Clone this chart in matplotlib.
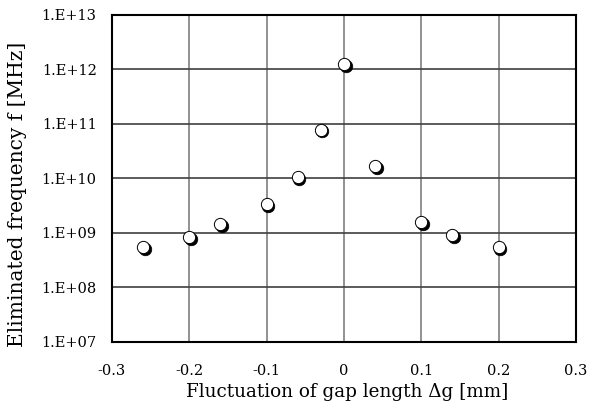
import matplotlib
matplotlib.use("Agg")
import matplotlib.pyplot as plt
import matplotlib.transforms as mtransforms
from matplotlib.ticker import FixedLocator, FixedFormatter

gap = [-0.26, -0.20, -0.16, -0.10, -0.06, -0.03, 0.0, 0.04, 0.10, 0.14, 0.20]
freq = [5.5e8, 8.5e8, 1.44e9, 3.4e9, 1.06e10, 7.9e10, 1.27e12, 1.68e10, 1.6e9, 9.0e8, 5.5e8]
xticks = [-0.3, -0.2, -0.1, 0, 0.1, 0.2, 0.3]
xlabels = ["-0.3", "-0.2", "-0.1", "0", "0.1", "0.2", "0.3"]
yticks = [1e7, 1e8, 1e9, 1e10, 1e11, 1e12, 1e13]
ylabels = ["1.E+07", "1.E+08", "1.E+09", "1.E+10", "1.E+11", "1.E+12", "1.E+13"]

plt.rcParams['font.family'] = ['DejaVu Serif']
fig = plt.figure(figsize=(5.89, 4.07), dpi=100)
ax = fig.add_axes([112/589, 1-342/407, (576-112)/589, (342-15)/407])
ax.set_yscale('log')
ax.set_xlim(-0.3, 0.3)
ax.set_ylim(1e7, 1e13)
ax.xaxis.set_major_locator(FixedLocator(xticks))
ax.xaxis.set_major_formatter(FixedFormatter(xlabels))
ax.yaxis.set_major_locator(FixedLocator(yticks))
ax.yaxis.set_major_formatter(FixedFormatter(ylabels))
ax.yaxis.set_minor_locator(FixedLocator([]))
ax.tick_params(axis='both', length=0, labelsize=10.5)
ax.tick_params(axis='x', pad=16)
ax.tick_params(axis='y', pad=11)
ax.grid(True, axis='x', color='#7f7f7f', lw=1.2)
ax.grid(True, axis='y', color='#404040', lw=1.2)
ax.set_axisbelow(True)
for s in ax.spines.values():
    s.set_linewidth(1.5)
    s.set_color('black')

shadow = mtransforms.offset_copy(ax.transData, fig=fig, x=1.2, y=-1.2, units='points')
ax.scatter(gap, freq, s=82, c='black', edgecolors='black', linewidths=0.5, transform=shadow, zorder=3)
ax.scatter(gap, freq, s=78, c='white', edgecolors='black', linewidths=0.7, zorder=4)

fig.text(347/589, 1-392/407, "Fluctuation of gap length Δg [mm]", fontsize=13.2,
         ha='center', va='center')
fig.text(18/589, 1-194/407, "Eliminated frequency f [MHz]", fontsize=14.5,
         ha='center', va='center', rotation=90)
fig.savefig("out.png", dpi=100)
